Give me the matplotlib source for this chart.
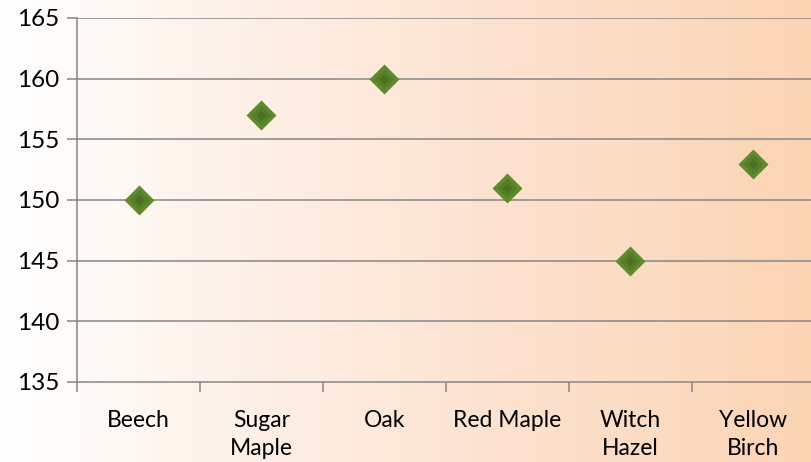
import numpy as np
import matplotlib.pyplot as plt
from matplotlib.colors import LinearSegmentedColormap

species = ['Beech', 'Sugar\nMaple', 'Oak', 'Red Maple', 'Witch\nHazel', 'Yellow\nBirch']
values = [150, 157, 160, 151, 145, 153]
yticks = [135, 140, 145, 150, 155, 160, 165]

plt.rcParams['font.family'] = ['Lato', 'DejaVu Sans']

fig = plt.figure(figsize=(8.11, 4.62), dpi=100)

# fond en dégradé horizontal blanc -> pêche
bg = fig.add_axes([0, 0, 1, 1], zorder=0)
cmap = LinearSegmentedColormap.from_list('peche', ['#ffffff', '#fde7d8', '#fbd4b4'])
bg.imshow(np.linspace(0, 1, 256).reshape(1, -1), cmap=cmap, aspect='auto', extent=[0, 1, 0, 1])
bg.axis('off')

ax = fig.add_axes([77 / 811, 80 / 462, 738 / 811, 364 / 462], zorder=1)
ax.patch.set_alpha(0)

x = np.arange(len(species)) + 0.5
grid = '#868686'

for y in yticks[1:]:
    ax.axhline(y, color=grid, lw=1.1, zorder=1)

# marqueurs en losange, dégradé vers le centre plus sombre
ax.plot(x, values, 'D', ms=15, color='#5f8c2b', mec='none', zorder=3)
ax.plot(x, values, 'D', ms=10, color='#557f26', mec='none', zorder=4)
ax.plot(x, values, 'D', ms=5, color='#4a7020', mec='none', zorder=5)

ax.set_xlim(0, 6)
ax.set_ylim(135, 165)
ax.set_yticks(yticks)
ax.set_xticks(np.arange(0, 7))
ax.set_xticklabels([])
ax.set_xticks(x, minor=True)
ax.set_xticklabels(species, minor=True, fontsize=16.5, linespacing=1.45)

ax.tick_params(axis='x', which='major', length=7, width=1.1, color=grid, direction='out')
ax.tick_params(axis='x', which='minor', length=0, pad=20)
ax.tick_params(axis='y', length=7, width=1.1, color=grid, labelsize=17.5, pad=6)
for lab in ax.get_xticklabels(minor=True):
    lab.set_verticalalignment('top')

for side in ['top', 'right']:
    ax.spines[side].set_visible(False)
for side in ['left', 'bottom']:
    ax.spines[side].set_color(grid)
    ax.spines[side].set_linewidth(1.1)

plt.savefig('out.png', dpi=100)
